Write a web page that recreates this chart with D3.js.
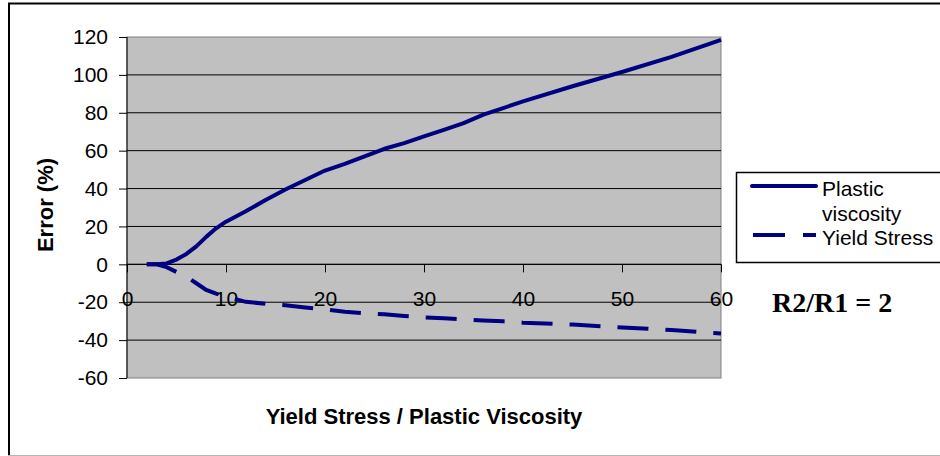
<!DOCTYPE html>
<html>
<head>
<meta charset="utf-8">
<script type="text/javascript" src="https://d3js.org/d3.v7.min.js"></script>
<style>
  body{
    margin:0;
    background-color:#ffffff;
  }
  #chart{
    width:940px;
    height:456px;
  }
  .axis text{
    font-family: Arial, 'Liberation Sans', sans-serif;
    font-size: 21px;
    fill:#000;
  }
  .axis path{ stroke:#000; stroke-width:1; }
  .axis line{ stroke:#000; stroke-width:1; }
  .grid line{ stroke:#000; stroke-width:1; }
  .title{
    font-family: Arial, 'Liberation Sans', sans-serif;
    font-weight: bold;
    font-size: 22px;
    fill:#000;
  }
  .legend text{
    font-family: Arial, 'Liberation Sans', sans-serif;
    font-size: 21px;
    fill:#000;
  }
  .note{
    font-family: 'Times New Roman', 'Liberation Serif', serif;
    font-weight: bold;
    font-size: 28px;
    fill:#000;
  }
</style>
</head>
<body>
<div id="chart"></div>
<script>
// ratio of yield stress to plastic viscosity
var ratio = [2, 3, 4, 5, 6, 7, 8, 9, 10, 12, 14, 16, 18, 20, 22, 24, 26, 28, 30, 32, 34, 36, 38, 40, 45, 50, 55, 60];

// error (%) on plastic viscosity
var plasticErr = [0, 0, 0.5, 2.5, 5.5, 9.5, 14.5, 19, 22.5, 28, 34, 39.5, 44.5, 49.5, 53, 57, 61, 64, 67.5, 71, 74.5, 79, 82.5, 86, 94, 101.5, 109.5, 118.5];

// error (%) on yield stress
var yieldErr = [0, 0, -1.5, -4, -6.5, -10, -13.5, -15.5, -17, -19.8, -20.8, -21.6, -22.8, -23.8, -25, -25.8, -26.4, -27.3, -28, -28.5, -29.1, -29.6, -30.1, -30.8, -31.8, -33.3, -34.7, -36.5];

var xTicks = [0, 10, 20, 30, 40, 50, 60];
var yTicks = [-60, -40, -20, 0, 20, 40, 60, 80, 100, 120];
var seriesNames = ["Plastic\nviscosity", "Yield Stress"];

var W = 940, H = 456;
var plot = {left: 127, top: 37, right: 721, bottom: 378};
var navy = "#000080";

// plain hyphen for negatives, like the original
var fmt = function(d){ return String(d); };

var svg = d3.select("#chart").append("svg")
  .attr("width", W)
  .attr("height", H);

// outer frame
svg.append("line").attr("x1", 8).attr("x2", W).attr("y1", 3.5).attr("y2", 3.5)
  .attr("stroke", "#000").attr("stroke-width", 2);
svg.append("line").attr("x1", 9).attr("x2", 9).attr("y1", 3).attr("y2", 455)
  .attr("stroke", "#000").attr("stroke-width", 2);
svg.append("line").attr("x1", 8).attr("x2", W).attr("y1", 455.5).attr("y2", 455.5)
  .attr("stroke", "#b4b4b4").attr("stroke-width", 1);

var x = d3.scaleLinear().domain([0, 60]).range([plot.left, plot.right]);
var y = d3.scaleLinear().domain([-60, 120]).range([plot.bottom, plot.top]);

// plot area
svg.append("rect")
  .attr("x", plot.left).attr("y", plot.top)
  .attr("width", plot.right - plot.left).attr("height", plot.bottom - plot.top)
  .attr("fill", "#c0c0c0")
  .attr("stroke", "#808080").attr("stroke-width", 1);

// gridlines
svg.append("g").attr("class", "grid")
  .selectAll("line")
  .data(yTicks.filter(function(d){ return d > -60 && d < 120; }))
  .enter().append("line")
  .attr("x1", plot.left).attr("x2", plot.right)
  .attr("y1", function(d){ return y(d); })
  .attr("y2", function(d){ return y(d); });

// y axis
var yAxis = d3.axisLeft(y).tickValues(yTicks).tickSize(8).tickPadding(11).tickFormat(fmt);
svg.append("g").attr("class", "y axis")
  .attr("transform", "translate(" + plot.left + ",0)")
  .call(yAxis)
  .call(function(g){ g.select(".domain").attr("d", "M0," + plot.top + "V" + plot.bottom); });

// x axis crosses at zero
var xAxis = d3.axisBottom(x).tickValues(xTicks).tickSize(8).tickPadding(0).tickFormat(fmt);
var xg = svg.append("g").attr("class", "x axis")
  .attr("transform", "translate(0," + y(0) + ")")
  .call(xAxis);
xg.select(".domain").attr("d", "M" + plot.left + ",0H" + plot.right).attr("stroke", "#404040");
xg.selectAll(".tick text").attr("y", 42).attr("dy", null);

// series
var line = d3.line()
  .x(function(d){ return x(d[0]); })
  .y(function(d){ return y(d[1]); });

svg.append("path")
  .datum(d3.zip(ratio, plasticErr))
  .attr("fill", "none")
  .attr("stroke", navy)
  .attr("stroke-width", 4)
  .attr("stroke-linejoin", "round")
  .attr("d", line);

svg.append("path")
  .datum(d3.zip(ratio, yieldErr))
  .attr("fill", "none")
  .attr("stroke", navy)
  .attr("stroke-width", 4)
  .attr("stroke-dasharray", "31,17")
  .attr("d", line);

// axis titles
svg.append("text").attr("class", "title")
  .attr("x", (plot.left + plot.right) / 2)
  .attr("y", 424)
  .attr("text-anchor", "middle")
  .text("Yield Stress / Plastic Viscosity");

svg.append("text").attr("class", "title")
  .attr("transform", "translate(53,205) rotate(-90)")
  .attr("text-anchor", "middle")
  .text("Error (%)");

// legend
var legend = svg.append("g").attr("class", "legend");
legend.append("rect")
  .attr("x", 736.5).attr("y", 172.5)
  .attr("width", 220).attr("height", 90)
  .attr("fill", "#fff")
  .attr("stroke", "#000").attr("stroke-width", 1.5);

legend.append("line")
  .attr("x1", 752).attr("x2", 816).attr("y1", 186).attr("y2", 186)
  .attr("stroke", navy).attr("stroke-width", 4).attr("stroke-linecap", "round");
legend.append("line")
  .attr("x1", 753).attr("x2", 816).attr("y1", 235).attr("y2", 235)
  .attr("stroke", navy).attr("stroke-width", 4).attr("stroke-dasharray", "32,18");

var lab = legend.append("text").attr("x", 822).attr("y", 196);
seriesNames[0].split("\n").forEach(function(s, i){
  lab.append("tspan").attr("x", 822).attr("dy", i ? 25 : 0).text(s);
});
legend.append("text").attr("x", 822).attr("y", 245).text(seriesNames[1]);

svg.append("text").attr("class", "note")
  .attr("x", 772).attr("y", 312)
  .text("R2/R1 = 2");
</script>
</body>
</html>
